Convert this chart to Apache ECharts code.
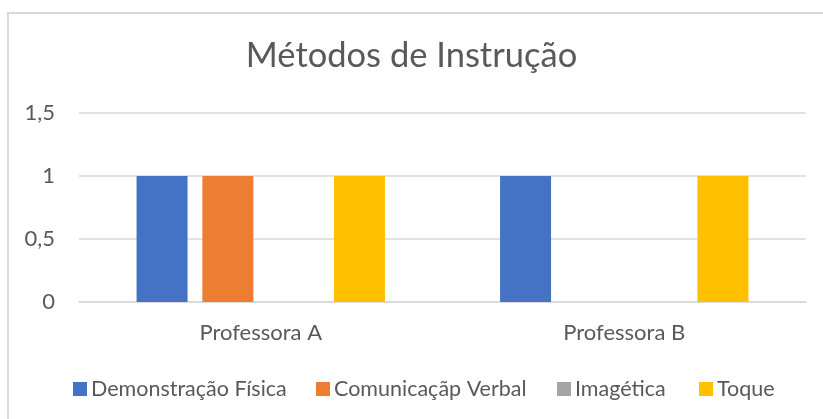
<!DOCTYPE html>
<html>
<head>
<meta charset="utf-8">
<script src="https://cdn.jsdelivr.net/npm/echarts@6/dist/echarts.min.js"></script>
<style>
  html, body { margin: 0; padding: 0; background: #fff; }
  #chart { width: 823px; height: 419px; }
</style>
</head>
<body>
<div id="chart"></div>
<script>
const categories = ['Professora A', 'Professora B'];
const seriesNames = ['Demonstração Física', 'Comunicaçãp Verbal', 'Imagética', 'Toque'];
const demonstracao = [1, 1];
const comunicacao = [1, 0];
const imagetica = [0, 0];
const toque = [1, 1];
const yTicks = [0, 0.5, 1, 1.5];

const colors = ['#4472C4', '#ED7D31', '#A5A5A5', '#FFC000'];
const font = "Lato, 'Open Sans', sans-serif";
// legend entries sit in Excel-style slots, so each gets its own left
const legendLeft = [73, 316, 557, 699];

const chart = echarts.init(document.getElementById('chart'));
chart.setOption({
  animation: false,
  color: colors,
  textStyle: { fontFamily: font },
  graphic: [{
    type: 'rect',
    shape: { x: 8, y: 13, width: 840, height: 440 },
    style: { fill: 'none', stroke: '#d9d9d9', lineWidth: 2 },
    silent: true,
  }],
  title: {
    text: 'Métodos de Instrução',
    left: 'center',
    top: 33,
    textStyle: { fontFamily: font, fontSize: 34.5, fontWeight: 'normal', color: '#595959' },
  },
  legend: seriesNames.map((name, i) => ({
    top: 378,
    left: legendLeft[i],
    padding: 0,
    itemWidth: 14,
    itemHeight: 14,
    icon: 'rect',
    textStyle: { fontFamily: font, fontSize: 21.5, color: '#595959', padding: [0, 0, 0, -1] },
    data: [name],
  })),
  grid: { left: 79, right: 17, top: 113, bottom: 117, containLabel: false },
  xAxis: {
    type: 'category',
    data: categories,
    axisLine: { lineStyle: { color: '#d9d9d9', width: 1.5 } },
    axisTick: { show: false },
    axisLabel: { fontFamily: font, fontSize: 22, color: '#595959', margin: 20 },
  },
  yAxis: {
    type: 'value',
    min: 0,
    max: yTicks[yTicks.length - 1],
    interval: 0.5,
    axisLine: { show: false },
    axisTick: { show: false },
    splitLine: { lineStyle: { color: '#d9d9d9', width: 1.5 } },
    axisLabel: {
      fontFamily: font, fontSize: 22, color: '#595959', margin: 24,
      formatter: (v) => String(v).replace('.', ','),
    },
  },
  series: [
    { name: seriesNames[0], type: 'bar', data: demonstracao, barWidth: 51, barGap: '29%' },
    { name: seriesNames[1], type: 'bar', data: comunicacao, barWidth: 51, barGap: '29%' },
    { name: seriesNames[2], type: 'bar', data: imagetica, barWidth: 51, barGap: '29%' },
    { name: seriesNames[3], type: 'bar', data: toque, barWidth: 51, barGap: '29%' },
  ],
});
</script>
</body>
</html>
